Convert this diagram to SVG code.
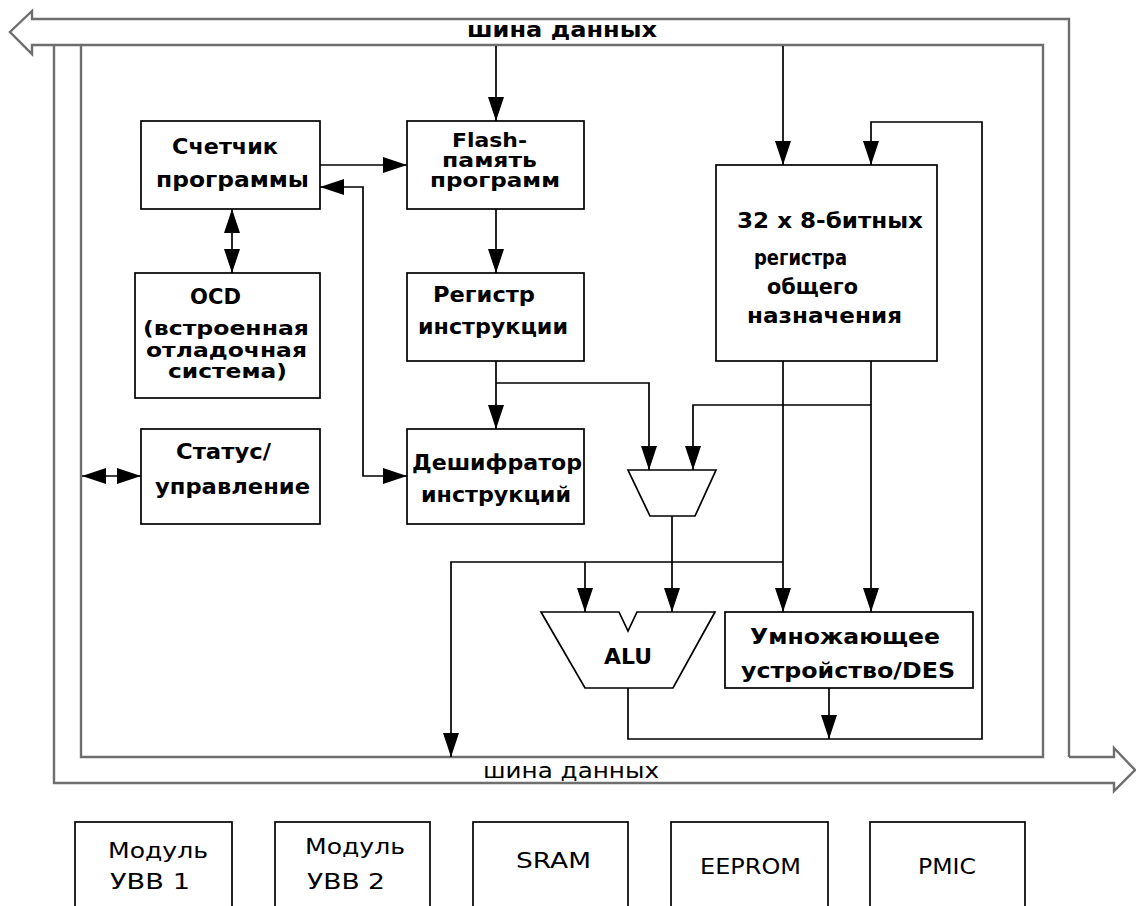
<svg xmlns="http://www.w3.org/2000/svg" width="1136" height="906" viewBox="0 0 1136 906">
<defs>
<marker id="ah" markerUnits="userSpaceOnUse" markerWidth="24" markerHeight="16" refX="24" refY="8" orient="auto-start-reverse" viewBox="0 0 24 16"><path d="M0,0 L24,8 L0,16 z" fill="#000"/></marker>
</defs>
<style>
.bus{fill:none;stroke:#6e6e6e;stroke-width:2.4;stroke-linejoin:miter}
.box{fill:#fff;stroke:#000;stroke-width:1.7}
.mod{fill:#fff;stroke:#000;stroke-width:1.7}
.c{fill:none;stroke:#000;stroke-width:1.7}
.ce{marker-end:url(#ah)}
.cb{marker-start:url(#ah);marker-end:url(#ah)}
text{font-family:"DejaVu Sans","Liberation Sans",sans-serif;fill:#000}
.t{font-size:22px;font-weight:bold}
.s{font-size:19px;font-weight:bold}
.m{font-size:22px;font-weight:normal}
</style>
<rect width="1136" height="906" fill="#fff"/>
<g id="bus">
<path class="bus" d="M1069,757 V19 H32 V11 L10,32 L32,54 V45 H1043 V757 H81 V45"/>
<path class="bus" d="M54,45 V783 H1114 V791 L1135,770 L1114,748 V757 H1069"/>
<text class="t" x="467" y="37" textLength="190" lengthAdjust="spacingAndGlyphs">шина данных</text>
<text class="m" x="483" y="778" textLength="176" lengthAdjust="spacingAndGlyphs">шина данных</text>
</g>
<g id="connectors">
<path class="c ce" d="M496,46 V121"/>
<path class="c ce" d="M783,46 V165"/>
<path class="c ce" d="M320,165 H407"/>
<path class="c cb" d="M407,476 H363 V187 H320"/>
<path class="c cb" d="M232,209 V273"/>
<path class="c cb" d="M82,476 H141"/>
<path class="c ce" d="M496,209 V273"/>
<path class="c ce" d="M496,361 V429"/>
<path class="c ce" d="M496,383 H649 V470"/>
<path class="c ce" d="M871,405 H693 V470"/>
<path class="c ce" d="M783,361 V612"/>
<path class="c ce" d="M871,361 V612"/>
<path class="c ce" d="M783,562 H451 V757"/>
<path class="c ce" d="M585,562 V612"/>
<path class="c ce" d="M672,516 V612"/>
<path class="c ce" d="M628,688 V739 H982 V122 H871 V165"/>
<path class="c ce" d="M829,688 V739"/>
</g>
<g id="counter">
<rect class="box" x="141" y="121" width="179" height="88"/>
<text class="t" x="172" y="154" textLength="106" lengthAdjust="spacingAndGlyphs">Счетчик</text>
<text class="t" x="156" y="187" textLength="153" lengthAdjust="spacingAndGlyphs">программы</text>
</g>
<g id="flash">
<rect class="box" x="407" y="121" width="177" height="88"/>
<text class="s" x="452" y="147" textLength="75" lengthAdjust="spacingAndGlyphs">Flash-</text>
<text class="s" x="442" y="167" textLength="95" lengthAdjust="spacingAndGlyphs">память</text>
<text class="s" x="430" y="187" textLength="130" lengthAdjust="spacingAndGlyphs">программ</text>
</g>
<g id="ocd">
<rect class="box" x="135" y="273" width="185" height="125"/>
<text class="t" x="190" y="304" textLength="51" lengthAdjust="spacingAndGlyphs">OCD</text>
<text class="s" x="143" y="335" textLength="166" lengthAdjust="spacingAndGlyphs">(встроенная</text>
<text class="s" x="146" y="357" textLength="161" lengthAdjust="spacingAndGlyphs">отладочная</text>
<text class="s" x="168" y="378" textLength="119" lengthAdjust="spacingAndGlyphs">система)</text>
</g>
<g id="ireg">
<rect class="box" x="407" y="273" width="177" height="88"/>
<text class="t" x="433" y="302" textLength="102" lengthAdjust="spacingAndGlyphs">Регистр</text>
<text class="t" x="418" y="334" textLength="150" lengthAdjust="spacingAndGlyphs">инструкции</text>
</g>
<g id="status">
<rect class="box" x="141" y="429" width="179" height="95"/>
<text class="t" x="176" y="459" textLength="95" lengthAdjust="spacingAndGlyphs">Статус/</text>
<text class="t" x="155" y="494" textLength="155" lengthAdjust="spacingAndGlyphs">управление</text>
</g>
<g id="decoder">
<rect class="box" x="407" y="429" width="177" height="95"/>
<text class="t" x="412" y="470" textLength="170" lengthAdjust="spacingAndGlyphs">Дешифратор</text>
<text class="t" x="421" y="502" textLength="150" lengthAdjust="spacingAndGlyphs">инструкций</text>
</g>
<g id="registers">
<rect class="box" x="716" y="165" width="221" height="196"/>
<text class="t" x="737" y="228" textLength="186" lengthAdjust="spacingAndGlyphs">32 x 8-битных</text>
<text class="t" x="754" y="265" textLength="93" lengthAdjust="spacingAndGlyphs">регистра</text>
<text class="t" x="767" y="294" textLength="91" lengthAdjust="spacingAndGlyphs">общего</text>
<text class="t" x="747" y="323" textLength="155" lengthAdjust="spacingAndGlyphs">назначения</text>
</g>
<g id="mux">
<polygon class="box" points="628,470 716,470 695,516 650,516"/>
</g>
<g id="alu">
<polygon class="box" points="541,612 619,612 628,631 637,612 715,612 673,688 585,688"/>
<text class="t" x="604" y="664" textLength="48" lengthAdjust="spacingAndGlyphs">ALU</text>
</g>
<g id="multiplier">
<rect class="box" x="725" y="612" width="248" height="76"/>
<text class="t" x="750" y="644" textLength="190" lengthAdjust="spacingAndGlyphs">Умножающее</text>
<text class="t" x="741" y="678" textLength="214" lengthAdjust="spacingAndGlyphs">устройство/DES</text>
</g>
<g id="io1">
<rect class="mod" x="75" y="822" width="157" height="100"/>
<text class="m" x="108" y="858" textLength="100" lengthAdjust="spacingAndGlyphs">Модуль</text>
<text class="m" x="110" y="889" textLength="80" lengthAdjust="spacingAndGlyphs">УВВ 1</text>
</g>
<g id="io2">
<rect class="mod" x="275" y="822" width="155" height="100"/>
<text class="m" x="305" y="854" textLength="100" lengthAdjust="spacingAndGlyphs">Модуль</text>
<text class="m" x="307" y="889" textLength="78" lengthAdjust="spacingAndGlyphs">УВВ 2</text>
</g>
<g id="sram">
<rect class="mod" x="473" y="822" width="155" height="100"/>
<text class="m" x="516" y="868" textLength="75" lengthAdjust="spacingAndGlyphs">SRAM</text>
</g>
<g id="eeprom">
<rect class="mod" x="671" y="822" width="157" height="100"/>
<text class="m" x="700" y="874" textLength="101" lengthAdjust="spacingAndGlyphs">EEPROM</text>
</g>
<g id="pmic">
<rect class="mod" x="870" y="822" width="155" height="100"/>
<text class="m" x="918" y="874" textLength="58" lengthAdjust="spacingAndGlyphs">PMIC</text>
</g>
</svg>
